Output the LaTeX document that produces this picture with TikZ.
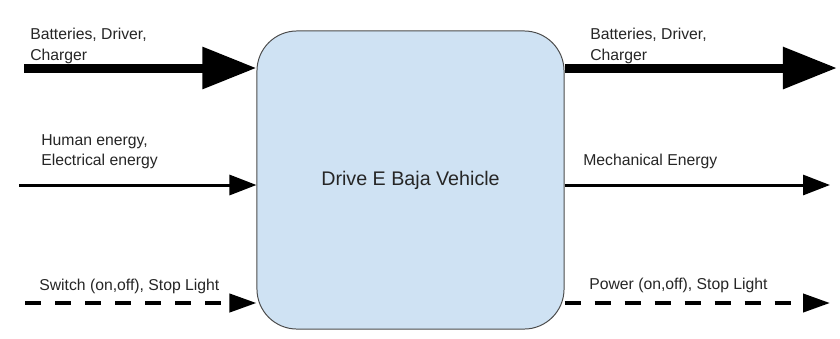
\documentclass[tikz,border=0pt]{standalone}
\usepackage{fontspec}
\setmainfont{Liberation Sans}
\usepackage{tikz}
\usetikzlibrary{arrows.meta,positioning,calc}
\usepackage{xcolor}
\definecolor{boxblue}{HTML}{CFE2F3}

\begin{document}
\begin{tikzpicture}[
  	x=0.025cm,
  	y=-0.025cm,
  	flowlabel/.style={anchor=north west,align=left,inner sep=0pt,font=\fontsize{11.2}{14.6}\selectfont,text=black!85},
  	vehicle/.style={draw=black!70,fill=boxblue,line width=0.7pt,rounded corners=1cm,minimum width=7.675cm,minimum height=7.45cm,font=\fontsize{14}{17}\selectfont,text=black!85},
  	bulkflow/.style={-{Triangle[length=1.35cm,width=1.0cm]},line width=0.225cm},
  	energyflow/.style={-{Triangle[length=0.675cm,width=0.5cm]},line width=0.075cm},
  	signalflow/.style={-{Triangle[length=0.675cm,width=0.45cm]},line width=0.1cm,dash pattern=on 0.4cm off 0.35cm}
  	]
  	\fill[white] (0,0) rectangle (840,338);
  	\useasboundingbox (0,0) rectangle (840,338);
  	
  	\node[vehicle] (box) at (410.5,180) {Drive E Baja Vehicle};
  	
  	% Free ends of the flows
  	\coordinate (batIn) at (24,68);
  	\coordinate (batOut) at (837,68);
  	\coordinate (energyIn) at (19,185);
  	\coordinate (energyOut) at (830,185);
  	\coordinate (switchIn) at (25,303);
  	\coordinate (powerOut) at (830,303);
  	
  	% Inputs
  	\draw[bulkflow] (batIn) -- (batIn -| box.west);
  	\draw[energyflow] (energyIn) -- (energyIn -| box.west);
  	\draw[signalflow] (switchIn) -- (switchIn -| box.west);
  	
  	% Outputs
  	\draw[bulkflow] (box.east |- batOut) -- (batOut);
  	\draw[energyflow] (box.east |- energyOut) -- (energyOut);
  	\draw[signalflow] (box.east |- powerOut) -- (powerOut);
  	
  	% Labels
  	\node[flowlabel] (batInLabel) at (30,28) {Batteries, Driver,\\Charger};
  	\node[flowlabel] (batOutLabel) at (590,28) {Batteries, Driver,\\Charger};
  	\node[flowlabel] (energyInLabel) at (41,134) {Human energy,\\Electrical energy};
  	\node[flowlabel] (energyOutLabel) at (583,154) {Mechanical Energy};
  	\node[flowlabel] (switchLabel) at (39,279) {Switch (on,off), Stop Light};
  	\node[flowlabel] (powerLabel) at (589,278) {Power (on,off), Stop Light};
  \end{tikzpicture}
\end{document}
